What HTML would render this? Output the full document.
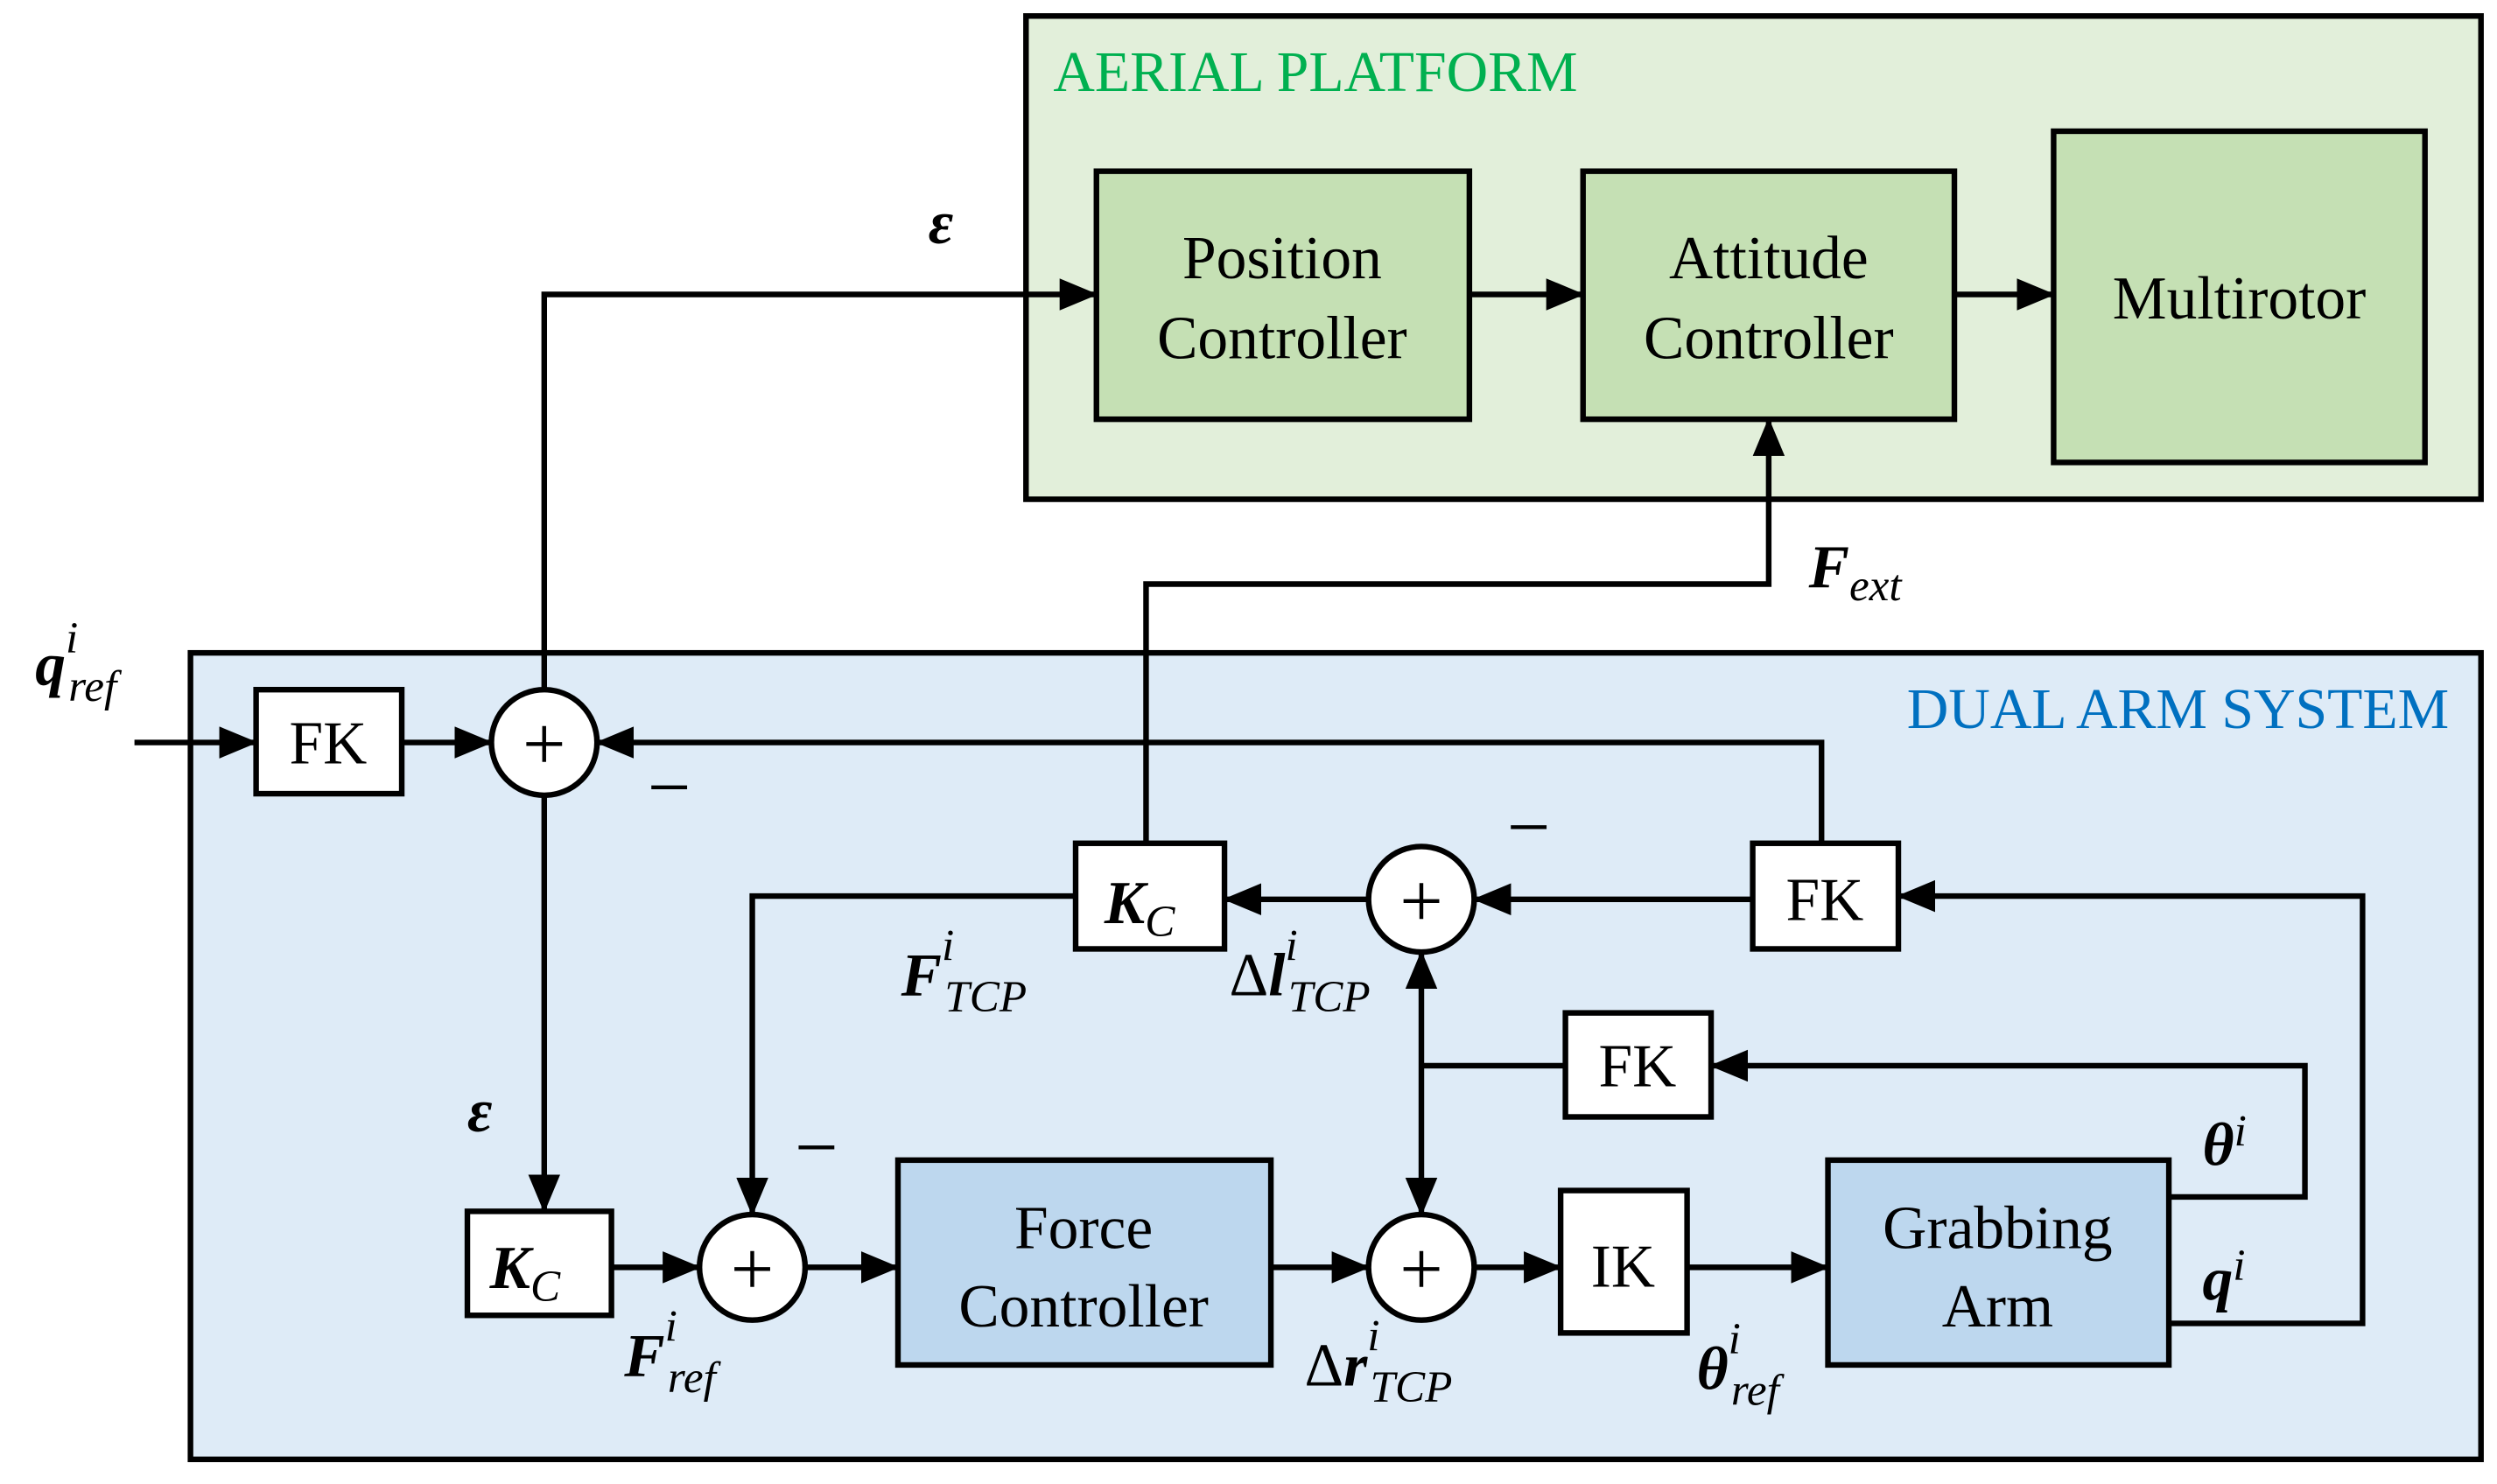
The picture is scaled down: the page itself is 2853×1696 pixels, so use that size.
<!DOCTYPE html>
<html><head><meta charset="utf-8"><style>
html,body{margin:0;padding:0;background:#fff;}
svg{display:block}
text{font-family:"Liberation Serif",serif;}
.b{font-size:38px;text-anchor:middle;}
.m{font-weight:bold;font-style:italic;font-size:38px;}
.s{font-size:28px;font-weight:normal;font-style:italic;}
</style></head><body>
<svg width="2853" height="1696" viewBox="0 0 1560 927.4" preserveAspectRatio="none" xmlns="http://www.w3.org/2000/svg">
<defs>
<marker id="ar" markerWidth="24" markerHeight="20" refX="23" refY="10" orient="auto" markerUnits="userSpaceOnUse"><path d="M0,0L24,10L0,20z" fill="#000"/></marker></defs>
<g stroke="#000" stroke-width="3.5">
<rect x="641" y="10" width="909" height="302" fill="#e2efda"/>
<rect x="119" y="408" width="1431" height="504" fill="#deebf7"/>
<rect x="685" y="107" width="233" height="155" fill="#c5e0b4"/>
<rect x="989" y="107" width="232" height="155" fill="#c5e0b4"/>
<rect x="1283" y="82" width="232" height="207" fill="#c5e0b4"/>
<rect x="160" y="431" width="91" height="65" fill="#fff"/>
<rect x="672" y="527" width="93" height="66" fill="#fff"/>
<rect x="1095" y="527" width="91" height="66" fill="#fff"/>
<rect x="978" y="633" width="91" height="65" fill="#fff"/>
<rect x="292" y="757" width="90" height="65" fill="#fff"/>
<rect x="561" y="725" width="233" height="128" fill="#bdd7ee"/>
<rect x="975" y="744" width="79" height="89" fill="#fff"/>
<rect x="1142" y="725" width="213" height="128" fill="#bdd7ee"/>
<circle cx="340" cy="464" r="33" fill="#fff"/>
<circle cx="888" cy="562" r="33" fill="#fff"/>
<circle cx="470" cy="792" r="33" fill="#fff"/>
<circle cx="888" cy="792" r="33" fill="#fff"/>
<g fill="none" marker-end="url(#ar)">
<path d="M84,464H160"/><path d="M251,464H307"/>
<path d="M340,431V184H685"/>
<path d="M918,184H989"/><path d="M1221,184H1283"/>
<path d="M1138,527V464H373"/>
<path d="M716,527V365H1105V262"/>
<path d="M1095,562H921"/><path d="M855,562H765"/>
<path d="M672,560H470V759"/>
<path d="M340,497V757"/>
<path d="M382,792H437"/><path d="M503,792H561"/>
<path d="M794,792H855"/><path d="M921,792H975"/><path d="M1054,792H1142"/>
<path d="M888,666V595"/><path d="M888,666V759"/>
<path d="M1355,748H1440V666H1069"/>
<path d="M1355,827H1476V560H1186"/>
</g>
<path d="M888,666H978" fill="none"/>
</g>
<g font-size="48" text-anchor="middle" style="font-family:'Liberation Sans',sans-serif">
<text x="340" y="481">+</text><text x="888" y="579">+</text><text x="470" y="809">+</text><text x="888" y="809">+</text>
<text x="418" y="508">−</text><text x="955" y="533">−</text><text x="510" y="733">−</text>
</g>
<text x="658" y="57" font-size="36" fill="#00b050">AERIAL PLATFORM</text>
<text x="1530" y="455" font-size="36" fill="#0070c0" text-anchor="end">DUAL ARM SYSTEM</text>
<text class="b" x="801" y="174">Position</text><text class="b" x="801" y="224">Controller</text>
<text class="b" x="1105" y="174">Attitude</text><text class="b" x="1105" y="224">Controller</text>
<text class="b" x="1399" y="199">Multirotor</text>
<text class="b" x="205" y="477">FK</text><text class="b" x="1140" y="575">FK</text><text class="b" x="1023" y="679">FK</text>
<text class="b" x="1014" y="804">IK</text>
<text class="b" x="677" y="780">Force</text><text class="b" x="677" y="829">Controller</text>
<text class="b" x="1248" y="780">Grabbing</text><text class="b" x="1248" y="829">Arm</text>
<text class="m" x="690" y="577">K<tspan class="s" dy="8">C</tspan></text>
<text class="m" x="306" y="805">K<tspan class="s" dy="8">C</tspan></text>
<text class="m" x="580" y="152">ε</text><text class="m" x="292" y="707">ε</text>
<text class="m" x="22" y="428">q<tspan class="s" dy="-20">i</tspan><tspan class="s" dx="-6" dy="30">ref</tspan></text>
<text class="m" x="1130" y="367">F<tspan class="s" dy="8">ext</tspan></text>
<text class="m" x="563" y="622">F<tspan class="s" dy="-22">i</tspan><tspan class="s" dx="-6" dy="32">TCP</tspan></text>
<text class="m" x="768" y="622"><tspan font-style="normal" font-weight="normal">Δ</tspan>l<tspan class="s" dy="-22">i</tspan><tspan class="s" dx="-6" dy="32">TCP</tspan></text>
<text class="m" x="390" y="860">F<tspan class="s" dy="-22">i</tspan><tspan class="s" dx="-6" dy="32">ref</tspan></text>
<text class="m" x="815" y="866"><tspan font-style="normal" font-weight="normal">Δ</tspan>r<tspan class="s" dy="-22">i</tspan><tspan class="s" dx="-6" dy="32">TCP</tspan></text>
<text class="m" x="1060" y="868">θ<tspan class="s" dy="-22">i</tspan><tspan class="s" dx="-6" dy="32">ref</tspan></text>
<text class="m" x="1376" y="728">θ<tspan class="s" font-style="normal" dy="-12">i</tspan></text>
<text class="m" x="1376" y="812">q<tspan class="s" font-style="normal" dy="-12">i</tspan></text>
</svg>
</body></html>
